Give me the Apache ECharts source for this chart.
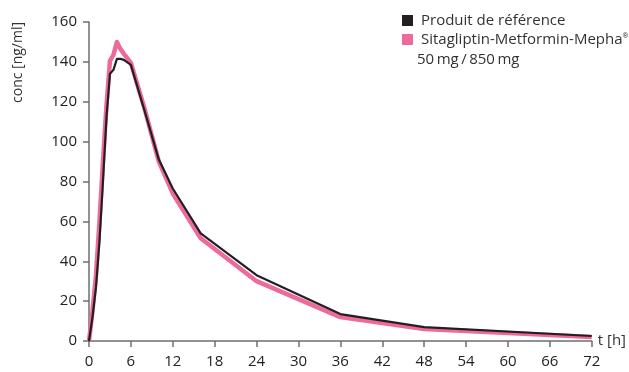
<!DOCTYPE html>
<html><head><meta charset="utf-8">
<script src="https://cdn.jsdelivr.net/npm/echarts@6/dist/echarts.min.js"></script>
<style>html,body{margin:0;padding:0;background:#fff}#c{width:629px;height:372px}</style>
</head><body><div id="c"></div>
<script>
const times = [0, 0.5, 1, 1.5, 2, 2.5, 3, 3.5, 4, 4.5, 5, 6, 8, 10, 12, 16, 24, 36, 48, 72];
const reference = [0, 12, 27, 50, 80, 112, 134, 136, 141.5, 141.5, 141, 138.5, 115, 91, 76.5, 54, 33, 13.5, 7, 2.5];
const mepha = [0, 15, 33, 60, 90, 118, 140.5, 143.5, 150, 146.5, 144, 139.5, 116, 90, 74, 51.5, 30, 12, 6, 2];
const seriesNames = ['Produit de référence', 'Sitagliptin-Metformin-Mepha®'];
const doseLabel = '50\u2009mg\u2009/\u2009850\u2009mg';
const xTicks = [0, 72, 6];
const yTicks = [0, 160, 20];

const font = 'Open Sans';
const chart = echarts.init(document.getElementById('c'));
const pair = (vals) => times.map((t, i) => [t, vals[i]]);
chart.setOption({
  animation: false,
  textStyle: {fontFamily: font},
  grid: {left: 89, right: 27, top: 22, bottom: 31},
  legend: {
    left: 397, top: 8, orient: 'vertical', itemGap: 4,
    icon: 'rect', itemWidth: 11, itemHeight: 11,
    textStyle: {fontSize: 15, color: '#333', fontFamily: font, padding: [0,0,0,3],
      rich: {sup: {fontSize: 7, verticalAlign: 'top', padding: [0,0,8,0], color: '#333', fontFamily: font}}},
    formatter: (n) => n.replace('®', '{sup|®}'),
    data: seriesNames
  },
  xAxis: {
    type: 'value', min: xTicks[0], max: xTicks[1], interval: xTicks[2],
    name: 't [h]', nameLocation: 'end', nameGap: 6,
    nameTextStyle: {fontSize: 15, color: '#333', verticalAlign: 'middle', fontFamily: font},
    axisLine: {lineStyle: {color: '#6e6e6e', width: 1.5}},
    axisTick: {show: true, length: 6, lineStyle: {color: '#6e6e6e', width: 1.5}},
    axisLabel: {fontSize: 15, color: '#222', margin: 13},
    splitLine: {show: false}
  },
  yAxis: {
    type: 'value', min: yTicks[0], max: yTicks[1], interval: yTicks[2],
    axisLine: {show: true, lineStyle: {color: '#6e6e6e', width: 1.5}},
    axisTick: {show: true, length: 6, lineStyle: {color: '#6e6e6e', width: 1.5}},
    axisLabel: {fontSize: 15, color: '#222', margin: 12},
    splitLine: {show: false}
  },
  graphic: [
    {type: 'text', left: 417, top: 52, style: {text: doseLabel, font: '15px "Open Sans"', fill: '#333'}},
    {type: 'text', x: 11, y: 103, rotation: Math.PI / 2, style: {text: 'conc [ng/ml]', font: '14px "Open Sans"', fill: '#333', textAlign: 'left', textVerticalAlign: 'top'}}
  ],
  series: [
    {name: seriesNames[1], type: 'line', data: pair(mepha), symbol: 'none', z: 2,
     itemStyle: {color: '#EE6A9B'}, lineStyle: {color: '#EE6A9B', width: 4.5, join: 'round'}},
    {name: seriesNames[0], type: 'line', data: pair(reference), symbol: 'none', z: 3,
     itemStyle: {color: '#231F20'}, lineStyle: {color: '#231F20', width: 2.2, join: 'round'}}
  ]
});
</script></body></html>
